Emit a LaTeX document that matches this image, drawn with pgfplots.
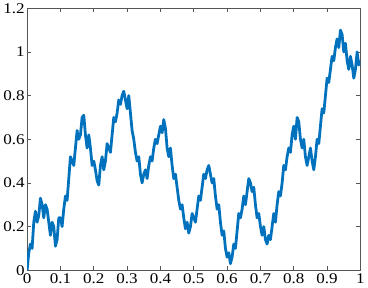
\documentclass[border=0pt]{standalone}
\usepackage{fontspec}
\setmainfont{Liberation Serif}[FakeStretch=1.15]
\usepackage{pgfplots}
\pgfplotsset{compat=1.18}
\definecolor{mblue}{RGB}{0,114,189}
\definecolor{axgray}{RGB}{85,85,85}
\begin{document}
\begin{tikzpicture}
\begin{axis}[
  scale only axis,
  width=336bp, height=264bp,
  xmin=0, xmax=1, ymin=0, ymax=1.2,
  xtick={0,0.1,...,1}, ytick={0,0.2,...,1.2},
  xticklabels={0,0.1,0.2,0.3,0.4,0.5,0.6,0.7,0.8,0.9,1},
  yticklabels={0,0.2,0.4,0.6,0.8,1,1.2},
  tick align=inside,
  major tick length=4bp,
  axis line style={axgray, line width=0.9pt},
  every tick/.style={axgray, line width=0.8pt},
  tick label style={font=\fontsize{15}{17}\selectfont, text=black},
  /pgf/number format/assume math mode=true,
  xticklabel style={yshift=0bp},
  yticklabel style={xshift=1bp},
]
\addplot[mblue, line width=2.8pt, line join=round] table[row sep=\\] {
x y\\
0.000 0.00\\
0.005 0.08\\
0.010 0.12\\
0.015 0.10\\
0.020 0.22\\
0.025 0.27\\
0.030 0.22\\
0.035 0.25\\
0.040 0.33\\
0.045 0.30\\
0.050 0.24\\
0.055 0.30\\
0.060 0.28\\
0.065 0.22\\
0.070 0.16\\
0.075 0.22\\
0.080 0.20\\
0.085 0.11\\
0.090 0.14\\
0.095 0.24\\
0.100 0.24\\
0.105 0.20\\
0.110 0.28\\
0.115 0.34\\
0.120 0.32\\
0.125 0.42\\
0.130 0.52\\
0.135 0.50\\
0.140 0.48\\
0.145 0.56\\
0.150 0.64\\
0.155 0.60\\
0.160 0.62\\
0.165 0.70\\
0.170 0.71\\
0.175 0.62\\
0.180 0.56\\
0.185 0.62\\
0.190 0.56\\
0.195 0.48\\
0.200 0.50\\
0.205 0.46\\
0.210 0.41\\
0.215 0.39\\
0.220 0.48\\
0.225 0.52\\
0.230 0.46\\
0.235 0.50\\
0.240 0.58\\
0.245 0.56\\
0.250 0.54\\
0.255 0.62\\
0.260 0.70\\
0.265 0.68\\
0.270 0.72\\
0.275 0.78\\
0.280 0.76\\
0.285 0.80\\
0.290 0.82\\
0.295 0.78\\
0.300 0.74\\
0.305 0.80\\
0.310 0.72\\
0.315 0.64\\
0.320 0.60\\
0.325 0.54\\
0.330 0.50\\
0.335 0.52\\
0.340 0.44\\
0.345 0.40\\
0.350 0.44\\
0.355 0.46\\
0.360 0.42\\
0.365 0.48\\
0.370 0.52\\
0.375 0.50\\
0.380 0.56\\
0.385 0.60\\
0.390 0.58\\
0.395 0.62\\
0.400 0.66\\
0.405 0.63\\
0.410 0.69\\
0.415 0.65\\
0.420 0.56\\
0.425 0.52\\
0.430 0.56\\
0.435 0.48\\
0.440 0.42\\
0.445 0.44\\
0.450 0.38\\
0.455 0.32\\
0.460 0.28\\
0.465 0.30\\
0.470 0.24\\
0.475 0.19\\
0.480 0.22\\
0.485 0.17\\
0.490 0.20\\
0.495 0.26\\
0.500 0.24\\
0.505 0.22\\
0.510 0.28\\
0.515 0.34\\
0.520 0.32\\
0.525 0.38\\
0.530 0.44\\
0.535 0.42\\
0.540 0.46\\
0.545 0.48\\
0.550 0.44\\
0.555 0.40\\
0.560 0.42\\
0.565 0.34\\
0.570 0.28\\
0.575 0.30\\
0.580 0.22\\
0.585 0.16\\
0.590 0.18\\
0.595 0.10\\
0.600 0.06\\
0.605 0.08\\
0.610 0.03\\
0.615 0.06\\
0.620 0.12\\
0.625 0.10\\
0.630 0.18\\
0.635 0.26\\
0.640 0.24\\
0.645 0.28\\
0.650 0.34\\
0.655 0.30\\
0.660 0.36\\
0.665 0.42\\
0.670 0.40\\
0.675 0.36\\
0.680 0.38\\
0.685 0.30\\
0.690 0.24\\
0.695 0.26\\
0.700 0.20\\
0.705 0.16\\
0.710 0.20\\
0.715 0.14\\
0.720 0.12\\
0.725 0.16\\
0.730 0.14\\
0.735 0.20\\
0.740 0.26\\
0.745 0.22\\
0.750 0.30\\
0.755 0.36\\
0.760 0.34\\
0.765 0.40\\
0.770 0.48\\
0.775 0.46\\
0.780 0.52\\
0.785 0.56\\
0.790 0.54\\
0.795 0.62\\
0.800 0.66\\
0.805 0.60\\
0.810 0.70\\
0.815 0.68\\
0.820 0.60\\
0.825 0.56\\
0.830 0.60\\
0.835 0.52\\
0.840 0.48\\
0.845 0.52\\
0.850 0.56\\
0.855 0.50\\
0.860 0.46\\
0.865 0.52\\
0.870 0.60\\
0.875 0.58\\
0.880 0.66\\
0.885 0.74\\
0.890 0.72\\
0.895 0.80\\
0.900 0.88\\
0.905 0.86\\
0.910 0.92\\
0.915 0.98\\
0.920 0.96\\
0.925 1.02\\
0.930 1.06\\
0.935 1.02\\
0.940 1.10\\
0.945 1.08\\
0.950 1.00\\
0.955 1.04\\
0.960 0.96\\
0.965 0.92\\
0.970 0.98\\
0.975 0.94\\
0.980 0.88\\
0.985 0.92\\
0.990 1.00\\
0.995 0.94\\
1.000 0.96\\
};
\end{axis}
\end{tikzpicture}
\end{document}
